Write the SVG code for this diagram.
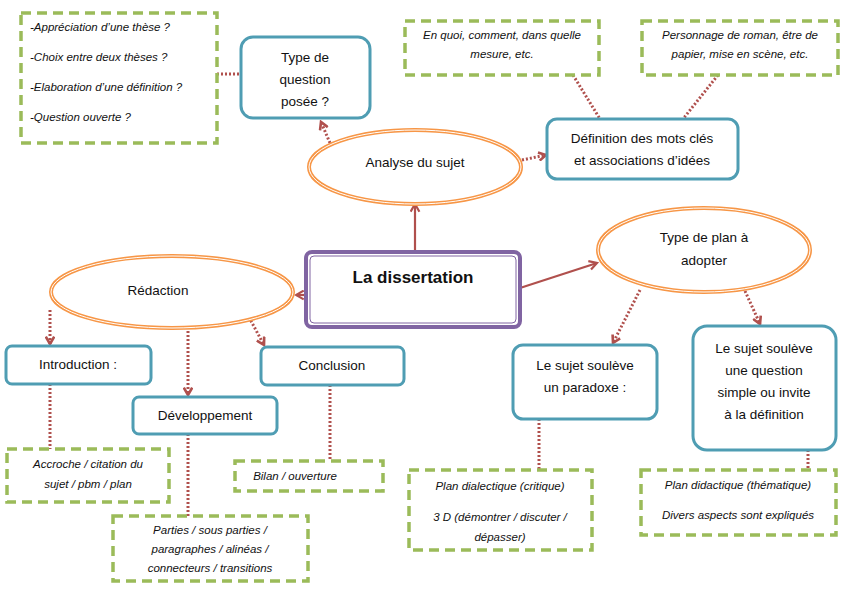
<svg xmlns="http://www.w3.org/2000/svg" width="851" height="599" viewBox="0 0 851 599">
<defs>
<style>
text{font-family:"Liberation Sans",Arial,sans-serif;fill:#111;text-anchor:middle}
.n{font-size:13.5px}
.i{font-size:11.5px;font-style:italic}
.blue{fill:#fff;stroke:#4f9db3;stroke-width:3}
.dash{fill:#fff;stroke:#9bbb59;stroke-width:3.5;stroke-dasharray:10,6}
.ell{fill:#fff;stroke:#f79646;stroke-width:4}
.ell2{fill:none;stroke:#fff;stroke-width:1}
.solid{stroke:#b0504d;stroke-width:2.2;fill:none}
.dot{stroke:#b0504d;stroke-width:3;stroke-dasharray:2,2;fill:none}
</style>
<marker id="a" viewBox="0 0 10 10" refX="8" refY="5" markerWidth="5" markerHeight="5" orient="auto"><path d="M1,1 L8,5 L1,9" fill="none" stroke="#b0504d" stroke-width="2"/></marker>
<marker id="d" viewBox="0 0 10 10" refX="8" refY="5" markerWidth="3.5" markerHeight="3.5" orient="auto"><path d="M1,1 L8,5 L1,9" fill="none" stroke="#b0504d" stroke-width="2.5"/></marker>
</defs>
<rect width="851" height="599" fill="#fff"/>
<g id="connectors">
<line class="solid" x1="415" y1="252" x2="415" y2="204" marker-end="url(#a)"/>
<line class="solid" x1="306" y1="295" x2="296" y2="295" marker-end="url(#a)"/>
<line class="solid" x1="520" y1="288" x2="597" y2="263" marker-end="url(#a)"/>
<line class="dot" x1="330" y1="143" x2="321" y2="122" marker-end="url(#d)"/>
<line class="dot" x1="522" y1="160" x2="546" y2="155" marker-end="url(#d)"/>
<line class="dot" x1="50" y1="310" x2="50" y2="344" marker-end="url(#d)"/>
<line class="dot" x1="188" y1="327" x2="188" y2="395" marker-end="url(#d)"/>
<line class="dot" x1="245" y1="310" x2="264" y2="345" marker-end="url(#d)"/>
<line class="dot" x1="640" y1="290" x2="613" y2="343" marker-end="url(#d)"/>
<line class="dot" x1="745" y1="291" x2="760" y2="324" marker-end="url(#d)"/>
<line class="dot" x1="217" y1="74" x2="241" y2="74"/>
<line class="dot" x1="573" y1="75" x2="600" y2="119"/>
<line class="dot" x1="718" y1="75" x2="683" y2="119"/>
<line class="dot" x1="50" y1="384" x2="50" y2="449"/>
<line class="dot" x1="188" y1="434" x2="188" y2="516"/>
<line class="dot" x1="330" y1="385" x2="330" y2="461"/>
<line class="dot" x1="539" y1="419" x2="539" y2="470"/>
<line class="dot" x1="808" y1="450" x2="808" y2="470"/>
</g>
<g id="questions"><rect class="dash" x="21" y="13" width="196" height="130"/>
<g class="i"><text x="30" y="31" style="text-anchor:start">-Appréciation d’une thèse ?</text><text x="30" y="61" style="text-anchor:start">-Choix entre deux thèses ?</text><text x="30" y="91" style="text-anchor:start">-Elaboration d’une définition ?</text><text x="30" y="121" style="text-anchor:start">-Question ouverte ?</text></g></g>
<g id="typequestion"><rect class="blue" x="241" y="37" width="129" height="81" rx="12"/><text class="n" x="305" y="62">Type de</text><text class="n" x="305" y="84">question</text><text class="n" x="305" y="106">posée ?</text></g>
<g id="analyse"><ellipse class="ell" cx="415" cy="167" rx="106" ry="37"/><ellipse class="ell2" cx="415" cy="167" rx="106" ry="37"/><text class="n" x="415" y="167">Analyse du sujet</text></g>
<g id="enquoi"><rect class="dash" x="405" y="21" width="194" height="54"/><text class="i" x="502" y="39">En quoi, comment, dans quelle</text><text class="i" x="502" y="58">mesure, etc.</text></g>
<g id="personnage"><rect class="dash" x="642" y="21" width="196" height="54"/><text class="i" x="740" y="39">Personnage de roman, être de</text><text class="i" x="740" y="58">papier, mise en scène, etc.</text></g>
<g id="definition"><rect class="blue" x="547" y="119" width="191" height="60" rx="10"/><text class="n" x="642" y="143">Définition des mots clés</text><text class="n" x="642" y="165">et associations d’idées</text></g>
<g id="central"><rect x="306" y="252" width="214" height="75" rx="6" fill="#fff" stroke="#8064a2" stroke-width="4"/><rect x="310" y="256" width="206" height="67" rx="4" fill="none" stroke="#8064a2" stroke-width="1"/><text x="413" y="283" style="font-size:17px;font-weight:bold">La dissertation</text></g>
<g id="typeplan"><ellipse class="ell" cx="704" cy="250" rx="106" ry="42"/><ellipse class="ell2" cx="704" cy="250" rx="106" ry="42"/><text class="n" x="704" y="242">Type de plan à</text><text class="n" x="704" y="265">adopter</text></g>
<g id="redaction"><ellipse class="ell" cx="172" cy="292" rx="121" ry="36"/><ellipse class="ell2" cx="172" cy="292" rx="121" ry="36"/><text class="n" x="158" y="295">Rédaction</text></g>
<g id="intro"><rect class="blue" x="6" y="346" width="145" height="38" rx="6"/><text class="n" x="78" y="369">Introduction :</text></g>
<g id="dev"><rect class="blue" x="133" y="397" width="144" height="37" rx="6"/><text class="n" x="205" y="420">Développement</text></g>
<g id="conclusion"><rect class="blue" x="261" y="347" width="143" height="38" rx="6"/><text class="n" x="332" y="370">Conclusion</text></g>
<g id="accroche"><rect class="dash" x="7" y="449" width="162" height="53"/><text class="i" x="88" y="468">Accroche / citation du</text><text class="i" x="88" y="488">sujet / pbm / plan</text></g>
<g id="parties"><rect class="dash" x="113" y="516" width="195" height="65"/><text class="i" x="210" y="534">Parties / sous parties /</text><text class="i" x="210" y="553">paragraphes / alinéas /</text><text class="i" x="210" y="572">connecteurs / transitions</text></g>
<g id="bilan"><rect class="dash" x="235" y="461" width="148" height="30"/><text class="i" x="295" y="480">Bilan / ouverture</text></g>
<g id="paradoxe"><rect class="blue" x="513" y="345" width="144" height="74" rx="10"/><text class="n" x="585" y="370">Le sujet soulève</text><text class="n" x="585" y="392">un paradoxe :</text></g>
<g id="simple"><rect class="blue" x="693" y="326" width="143" height="124" rx="14"/><text class="n" x="764" y="353">Le sujet soulève</text><text class="n" x="764" y="375">une question</text><text class="n" x="764" y="397">simple ou invite</text><text class="n" x="764" y="419">à la définition</text></g>
<g id="dialectique"><rect class="dash" x="409" y="470" width="183" height="80"/><text class="i" x="500" y="490">Plan dialectique (critique)</text><text class="i" x="500" y="521">3 D (démontrer / discuter /</text><text class="i" x="500" y="541">dépasser)</text></g>
<g id="didactique"><rect class="dash" x="641" y="470" width="195" height="65"/><text class="i" x="738" y="489">Plan didactique (thématique)</text><text class="i" x="738" y="519">Divers aspects sont expliqués</text></g>
</svg>
